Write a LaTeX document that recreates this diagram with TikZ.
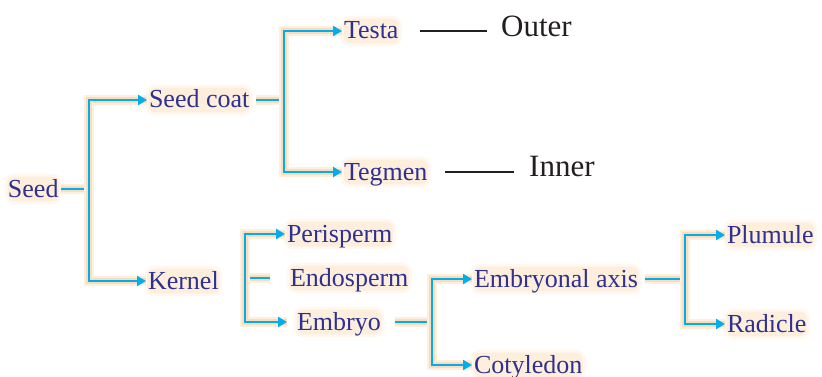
\documentclass[tikz,border=0pt]{standalone}
\usepackage{fontspec}
\setmainfont{Liberation Serif}
\usetikzlibrary{arrows.meta}

\definecolor{partblue}{RGB}{46,49,146}
\definecolor{linkblue}{RGB}{0,174,239}
\definecolor{glow}{RGB}{252,220,186}
\definecolor{glowout}{RGB}{254,239,222}
\definecolor{textglow}{RGB}{254,238,220}
\definecolor{textglowout}{RGB}{255,248,240}
\definecolor{layerblack}{RGB}{35,31,32}

\begin{document}
\begin{tikzpicture}[x=1pt,y=-1pt,
    part/.style={anchor=west, inner xsep=2pt, inner ysep=1pt, outer sep=0pt,
        text=partblue, text height=20.8pt, text depth=4.8pt,
        fill=textglow, draw=textglowout, line width=3pt, rounded corners=8pt,
        font=\fontsize{26}{28}\selectfont},
    layer/.style={anchor=base west, inner sep=2pt, text=layerblack,
        font=\fontsize{31}{33}\selectfont},
    link/.style={draw=linkblue, line width=2.2pt,
        preaction={draw=glowout, line width=10pt, -},
        preaction={draw=glow, line width=5.5pt, -}},
    tolink/.style={link, -{Triangle[length=9pt,width=10pt]}},
    tick/.style={draw=layerblack, line width=1.1pt}]
    \useasboundingbox (0,0) rectangle (822,377);

    \node[part] (seed) at (6,189) {Seed};
    \node[part] (seedcoat) at (147,100) {Seed coat};
    \node[part] (kernel) at (146,281) {Kernel};
    \node[part] (testa) at (342,31) {Testa};
    \node[part] (tegmen) at (342,172) {Tegmen};
    \node[layer] (outer) at (499,37) {Outer};
    \node[layer] (inner) at (527,176) {Inner};
    \node[part] (perisperm) at (285,234) {Perisperm};
    \node[part] (endosperm) at (288,278) {Endosperm};
    \node[part] (embryo) at (295,322) {Embryo};
    \node[part] (embaxis) at (472,279) {Embryonal axis};
    \node[part] (cotyledon) at (472,365) {Cotyledon};
    \node[part] (plumule) at (725,235) {Plumule};
    \node[part] (radicle) at (725,324) {Radicle};

    \coordinate (seedjoin) at (89,189);
    \coordinate (coatjoin) at (284,100);
    \coordinate (kerneljoin) at (245,278);
    \coordinate (embryojoin) at (432,322);
    \coordinate (axisjoin) at (685,279);

    \draw[link] (seed) -- (seedjoin);
    \draw[tolink] (seedjoin) |- (seedcoat);
    \draw[tolink] (seedjoin) |- (kernel);

    \draw[link, shorten <=5pt] (seedcoat) -- (coatjoin);
    \draw[tolink] (coatjoin) |- (testa);
    \draw[tolink] (coatjoin) |- (tegmen);
    \draw[tick, shorten <=20pt, shorten >=12pt] (testa) -- (testa -| outer.west);
    \draw[tick, shorten <=16pt, shorten >=13pt] (tegmen) -- (tegmen -| inner.west);

    \draw[link, shorten >=18pt] (kerneljoin) -- (endosperm);
    \draw[tolink] (kerneljoin) |- (perisperm);
    \draw[tolink, shorten >=8pt] (kerneljoin) |- (embryo);

    \draw[link, shorten <=12pt] (embryo) -- (embryojoin);
    \draw[tolink] (embryojoin) |- (embaxis);
    \draw[tolink] (embryojoin) |- (cotyledon);

    \draw[link, shorten <=5pt] (embaxis) -- (axisjoin);
    \draw[tolink] (axisjoin) |- (plumule);
    \draw[tolink] (axisjoin) |- (radicle);
\end{tikzpicture}
\end{document}
